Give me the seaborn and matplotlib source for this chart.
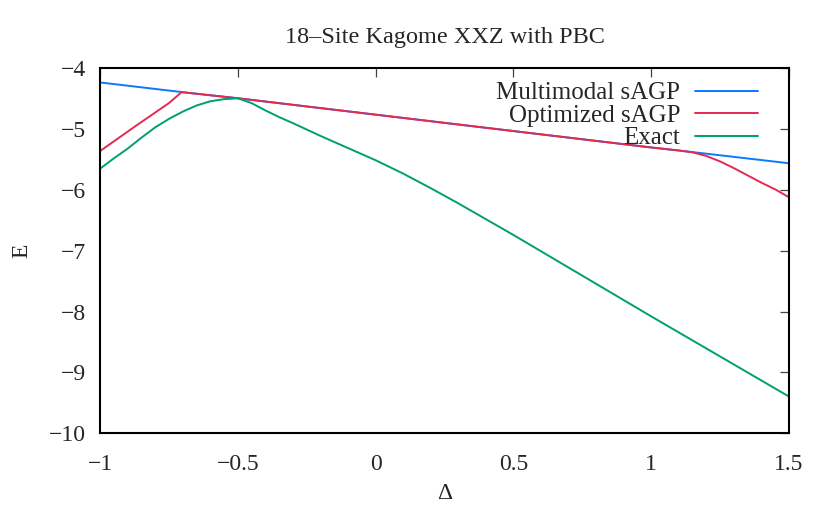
import pandas as pd
import seaborn as sns
import matplotlib.pyplot as plt

# Delta values and energies
delta_multi = [-1.0, -0.7, -0.5, 0.0, 0.5, 1.0, 1.1, 1.5]
e_multi = [-4.23, -4.39, -4.49, -4.76, -5.03, -5.30, -5.35, -5.56]

delta_opt = [-1.0, -0.875, -0.75, -0.704, -0.5, 0.0, 0.5, 1.0, 1.1, 1.15, 1.2,
             1.25, 1.3, 1.35, 1.4, 1.45, 1.5]
e_opt = [-5.36, -4.96, -4.57, -4.39, -4.49, -4.76, -5.03, -5.30, -5.35, -5.38,
         -5.44, -5.53, -5.64, -5.76, -5.88, -5.99, -6.12]

delta_exact = [-1.0, -0.95, -0.9, -0.85, -0.8, -0.75, -0.7, -0.65, -0.6, -0.55,
               -0.5, -0.45, -0.4, -0.35, -0.3, -0.2, -0.1, 0.0, 0.1, 0.2, 0.3,
               0.4, 0.5, 0.75, 1.0, 1.25, 1.5]
e_exact = [-5.65, -5.48, -5.32, -5.14, -4.97, -4.83, -4.71, -4.61, -4.54, -4.505,
           -4.49, -4.57, -4.69, -4.80, -4.90, -5.11, -5.31, -5.51, -5.73, -5.97,
           -6.22, -6.48, -6.74, -7.41, -8.08, -8.74, -9.40]

labels = ['Multimodal sAGP', 'Optimized sAGP', 'Exact']
colors = ['#0a78ff', '#e5294f', '#009e73']

sns.set_style('white')
plt.rcParams['font.family'] = ['Liberation Serif', 'DejaVu Serif']

fig = plt.figure(figsize=(8.3, 5.08), dpi=100)
ax = fig.add_axes([0.1205, 0.1476, 0.8301, 0.7176])

series = [(delta_multi, e_multi), (delta_opt, e_opt), (delta_exact, e_exact)]
for (xs, ys), lab, col in zip(series, labels, colors):
	df = pd.DataFrame({'delta': xs, 'E': ys})
	sns.lineplot(data=df, x='delta', y='E', ax=ax, color=col, lw=1.4,
	             label=lab, estimator=None, sort=False)

ax.set_xlim(-1, 1.5)
ax.set_ylim(-10, -4)
ax.set_xticks([-1, -0.5, 0, 0.5, 1, 1.5])
ax.set_xticklabels(['\u22121', '\u22120.5', '0', '0.5', '1', '1.5'])
ax.set_yticks(range(-10, -3))
ax.set_yticklabels(['\u2212%d' % -v for v in range(-10, -3)])

ax.tick_params(direction='in', top=True, right=True, length=6.5, width=0.9,
               color='#444444', labelsize=17)
ax.tick_params(axis='x', pad=15)
ax.tick_params(axis='y', pad=10)
for sp in ax.spines.values():
	sp.set_linewidth(1.5)
	sp.set_color('black')

ax.set_xlabel('\u0394', fontsize=17, labelpad=6)
ax.set_ylabel('E', fontsize=17, labelpad=12)
ax.set_title('18\u2013Site Kagome XXZ with PBC', fontsize=17.5, pad=18)

ax.legend(loc='upper right', frameon=False, markerfirst=False, fontsize=18,
          handlelength=2.5, handletextpad=0.6, labelspacing=0.0,
          bbox_to_anchor=(0.987, 1.025))

plt.savefig('out.png', dpi=100)
